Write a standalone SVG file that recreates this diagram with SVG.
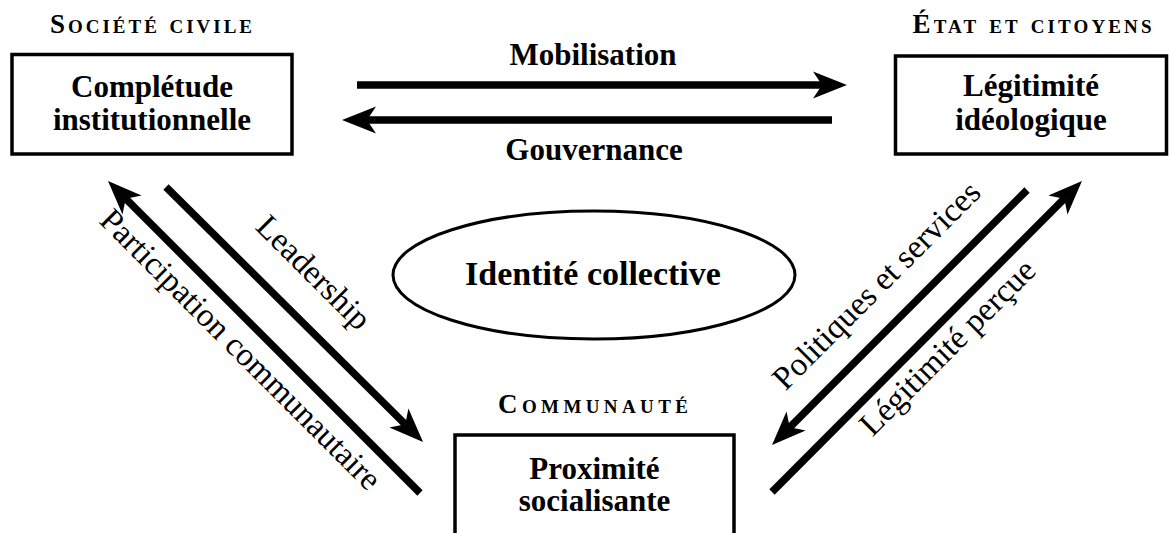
<svg xmlns="http://www.w3.org/2000/svg" width="1169" height="533" viewBox="0 0 1169 533">
<style>
  .box { fill: #fff; stroke: #000; stroke-width: 3.5; }
  .ell { fill: #fff; stroke: #000; stroke-width: 3; }
  .t { font-family: "Liberation Serif", "Times New Roman", serif; fill: #000; text-anchor: middle; }
  .bold { font-weight: bold; font-size: 31px; }
  .head { font-size: 27px; font-weight: bold; font-variant: small-caps; }
  .lbl { font-size: 33px; }
  .arr { stroke: #000; stroke-width: 7.5; fill: none; stroke-linecap: butt; marker-end: url(#ah); }
</style>
<defs>
  <marker id="ah" markerUnits="userSpaceOnUse" markerWidth="34" markerHeight="28" viewBox="0 0 34 28" refX="9" refY="14" orient="auto">
    <path d="M0,0.5 L34,14 L0,27.5 L9,14 Z" fill="#000"/>
  </marker>
</defs>
<rect width="1169" height="533" fill="#fff"/>

<g id="connectors">
  <line class="arr" x1="357" y1="85" x2="822" y2="85"/>
  <line class="arr" x1="832" y1="120" x2="367" y2="120"/>
  <line class="arr" x1="166" y1="187" x2="405.3" y2="424.3"/>
  <line class="arr" x1="420" y1="493" x2="125.7" y2="198.7"/>
  <line class="arr" x1="1027" y1="190" x2="789.7" y2="427.3"/>
  <line class="arr" x1="772" y1="492" x2="1064.3" y2="198.7"/>
  <text class="t bold" x="593" y="65">Mobilisation</text>
  <text class="t bold" x="594" y="160">Gouvernance</text>
  <text class="t lbl" transform="translate(306,280) rotate(45)">Leadership</text>
  <text class="t lbl" transform="translate(233,357) rotate(45)">Participation communautaire</text>
  <text class="t lbl" transform="translate(884,293) rotate(-45)">Politiques et services</text>
  <text class="t lbl" transform="translate(955,355) rotate(-45)">Légitimité perçue</text>
</g>

<g id="node-societe">
  <text class="t head" x="151" y="33" textLength="202">Société civile</text>
  <rect class="box" x="12" y="54.5" width="280" height="99.5"/>
  <text class="t bold" x="152" y="97">Complétude</text>
  <text class="t bold" x="152" y="130">institutionnelle</text>
</g>

<g id="node-etat">
  <text class="t head" x="1032" y="33" textLength="239">État et citoyens</text>
  <rect class="box" x="895.5" y="56" width="271" height="98"/>
  <text class="t bold" x="1031" y="96">Légitimité</text>
  <text class="t bold" x="1031" y="130">idéologique</text>
</g>

<g id="node-identite">
  <ellipse class="ell" cx="594" cy="275" rx="201" ry="64"/>
  <text class="t" x="593" y="285" style="font-weight:bold;font-size:34px">Identité collective</text>
</g>

<g id="node-communaute">
  <text class="t head" x="593" y="413" textLength="190">Communauté</text>
  <rect class="box" x="455" y="435" width="279" height="110"/>
  <text class="t bold" x="594.5" y="479">Proximité</text>
  <text class="t bold" x="594.5" y="511">socialisante</text>
</g>
</svg>
